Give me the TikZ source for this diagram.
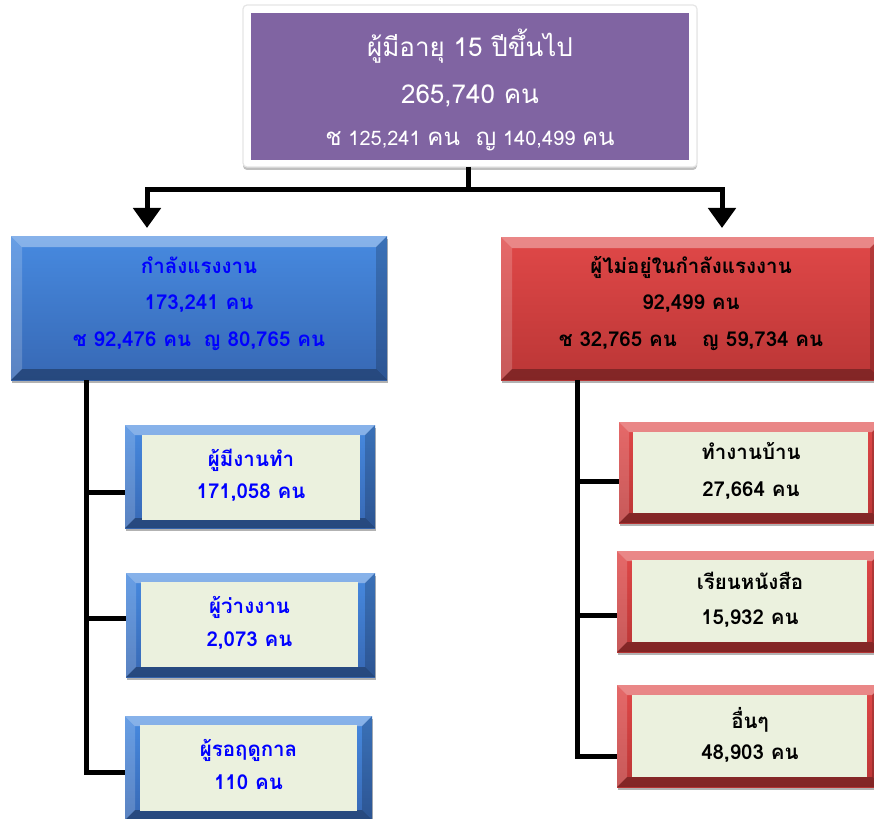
\documentclass[tikz,border=0pt]{standalone}
\usepackage{fontspec}
\setmainfont[Script=Thai]{Loma}
\usetikzlibrary{arrows.meta,shadows}
\definecolor{purp}{HTML}{8064A2}
\definecolor{blueT}{HTML}{478AE0}
\definecolor{blueB}{HTML}{3768B4}
\definecolor{redT}{HTML}{E04848}
\definecolor{redB}{HTML}{BB3636}
\definecolor{greenin}{HTML}{EBF1DE}
\definecolor{txtblue}{HTML}{0000FF}
\newcommand\bigth[1]{{\fontsize{24}{26}\selectfont #1}}
\tikzset{
  arr/.style={line width=5pt, line join=miter, -{Triangle[width=27pt,length=20pt]}},
  bevel/.style={path picture={
    \fill[white,opacity=.35] (path picture bounding box.north west) -- (path picture bounding box.north east) -- ([shift={(-#1,-#1)}]path picture bounding box.north east) -- ([shift={(#1,-#1)}]path picture bounding box.north west) -- cycle;
    \fill[white,opacity=.18] (path picture bounding box.north west) -- ([shift={(#1,-#1)}]path picture bounding box.north west) -- ([shift={(#1,#1)}]path picture bounding box.south west) -- (path picture bounding box.south west) -- cycle;
    \fill[black,opacity=.3] (path picture bounding box.south west) -- ([shift={(#1,#1)}]path picture bounding box.south west) -- ([shift={(-#1,#1)}]path picture bounding box.south east) -- (path picture bounding box.south east) -- cycle;
    \fill[black,opacity=.18] (path picture bounding box.north east) -- ([shift={(-#1,-#1)}]path picture bounding box.north east) -- ([shift={(-#1,#1)}]path picture bounding box.south east) -- (path picture bounding box.south east) -- cycle;
  }},
  boxbase/.style={rectangle, inner sep=0pt, outer sep=0pt, draw=none},
  shd/.style={drop shadow={shadow xshift=1pt, shadow yshift=-3pt, opacity=.3, fill=black}},
  bluebox/.style={boxbase, top color=blueT, bottom color=blueB, bevel=#1, shd},
  redbox/.style={boxbase, top color=redT, bottom color=redB, bevel=#1, shd},
  greenbox/.style={boxbase, fill=greenin},
  ln/.style={anchor=base, inner sep=0pt, outer sep=0pt},
  bt/.style={ln, font=\bfseries\fontsize{20.5}{24}\selectfont},
  wire/.style={line width=5pt, line join=miter},
}
\begin{document}
\begin{tikzpicture}[x=1pt, y=-1pt]
\useasboundingbox (0,0) rectangle (874,818);

% top box
\node[boxbase, fill=white, draw=black!10, line width=1.2pt, rounded corners=4pt, minimum width=454pt, minimum height=162pt, drop shadow={shadow xshift=0pt, shadow yshift=-3pt, opacity=.25, fill=black}] (topw) at (470,86) {};
\node[boxbase, fill=purp, minimum width=438pt, minimum height=147pt] (top) at (470,86.5) {};
\node[ln, text=white, font=\fontsize{26}{30}\selectfont] (t1) at (470,57) {ผู้มีอายุ 15 ปีขึ้นไป};
\node[ln, text=white, font=\fontsize{26}{30}\selectfont] (t2) at (470,104) {265,740 คน};
\node[ln, text=white, font=\fontsize{20}{24}\selectfont] (t3) at (470,146) {\bigth{ช} 125,241 \bigth{คน}\hspace{0.8em}\bigth{ญ} 140,499 \bigth{คน}};

% level 2 boxes
\node[bluebox=11pt, minimum width=376pt, minimum height=144pt] (lab) at (199,308) {};
\node[bt, text=txtblue] (lab1) at (199,273) {กำลังแรงงาน};
\node[bt, text=txtblue] (lab2) at (199,309) {173,241 คน};
\node[bt, text=txtblue] (lab3) at (199,346) {ช 92,476 คน\hspace{0.6em}ญ 80,765 คน};

\node[redbox=11pt, minimum width=380pt, minimum height=143pt] (nlab) at (691,308.5) {};
\node[bt, text=black] (nlab1) at (691,273) {ผู้ไม่อยู่ในกำลังแรงงาน};
\node[bt, text=black] (nlab2) at (691,309) {92,499 คน};
\node[bt, text=black] (nlab3) at (691,346) {ช 32,765 คน\hspace{1.2em}ญ 59,734 คน};

% left sub boxes
\node[bluebox=10pt, minimum width=250pt, minimum height=103pt] (sb1) at (250,476.5) {};
\node[greenbox, minimum width=218pt, minimum height=85pt] (sb1i) at (251,477.5) {};
\node[bt, text=txtblue] (sb1a) at (251,466) {ผู้มีงานทำ};
\node[bt, text=txtblue] (sb1b) at (251,498) {171,058 คน};

\node[bluebox=10pt, minimum width=249pt, minimum height=104pt] (sb2) at (250.5,625) {};
\node[greenbox, minimum width=217pt, minimum height=85pt] (sb2i) at (249.5,624.5) {};
\node[bt, text=txtblue] (sb2a) at (249.5,613) {ผู้ว่างงาน};
\node[bt, text=txtblue] (sb2b) at (249.5,646) {2,073 คน};

\node[bluebox=10pt, minimum width=247pt, minimum height=104pt] (sb3) at (248.5,768) {};
\node[greenbox, minimum width=217pt, minimum height=86pt] (sb3i) at (248.5,768) {};
\node[bt, text=txtblue] (sb3a) at (248.5,756) {ผู้รอฤดูกาล};
\node[bt, text=txtblue] (sb3b) at (248.5,789) {110 คน};

% right sub boxes
\node[redbox=10pt, minimum width=263pt, minimum height=101pt] (rs1) at (750.5,472.5) {};
\node[greenbox, minimum width=235pt, minimum height=81pt] (rs1i) at (750.5,472.5) {};
\node[bt, text=black] (rs1a) at (751,459) {ทำงานบ้าน};
\node[bt, text=black] (rs1b) at (751,496) {27,664 คน};

\node[redbox=10pt, minimum width=265pt, minimum height=101pt] (rs2) at (749.5,601.5) {};
\node[greenbox, minimum width=235pt, minimum height=82pt] (rs2i) at (749.5,601) {};
\node[bt, text=black] (rs2a) at (750,589) {เรียนหนังสือ};
\node[bt, text=black] (rs2b) at (750,624) {15,932 คน};

\node[redbox=10pt, minimum width=265pt, minimum height=102pt] (rs3) at (749.5,736) {};
\node[greenbox, minimum width=235pt, minimum height=82pt] (rs3i) at (749.5,736) {};
\node[bt, text=black] (rs3a) at (750,728) {อื่นๆ};
\node[bt, text=black] (rs3b) at (750,759) {48,903 คน};

% connectors from top
\coordinate (j) at (468,190);
\coordinate (aL) at (147,228);
\coordinate (aR) at (722,228);
\draw[wire] (topw.south -| j) -- (j);
\draw[arr] (j) -| (aL);
\draw[arr] (j) -| (aR);

% left tree
\coordinate (L0) at (86,380);
\coordinate (L1) at (86,492);
\coordinate (L2) at (86,618);
\coordinate (L3) at (86,772);
\draw[wire] (lab.south -| L0) -- (L3) -- (sb3.west |- L3);
\draw[wire] (L1) -- (sb1.west |- L1);
\draw[wire] (L2) -- (sb2.west |- L2);

% right tree
\coordinate (R0) at (577,380);
\coordinate (R1) at (577,481);
\coordinate (R2) at (577,615);
\coordinate (R3) at (577,756);
\draw[wire] (nlab.south -| R0) -- (R3) -- (rs3.west |- R3);
\draw[wire] (R1) -- (rs1.west |- R1);
\draw[wire] (R2) -- (rs2.west |- R2);
\end{tikzpicture}
\end{document}
